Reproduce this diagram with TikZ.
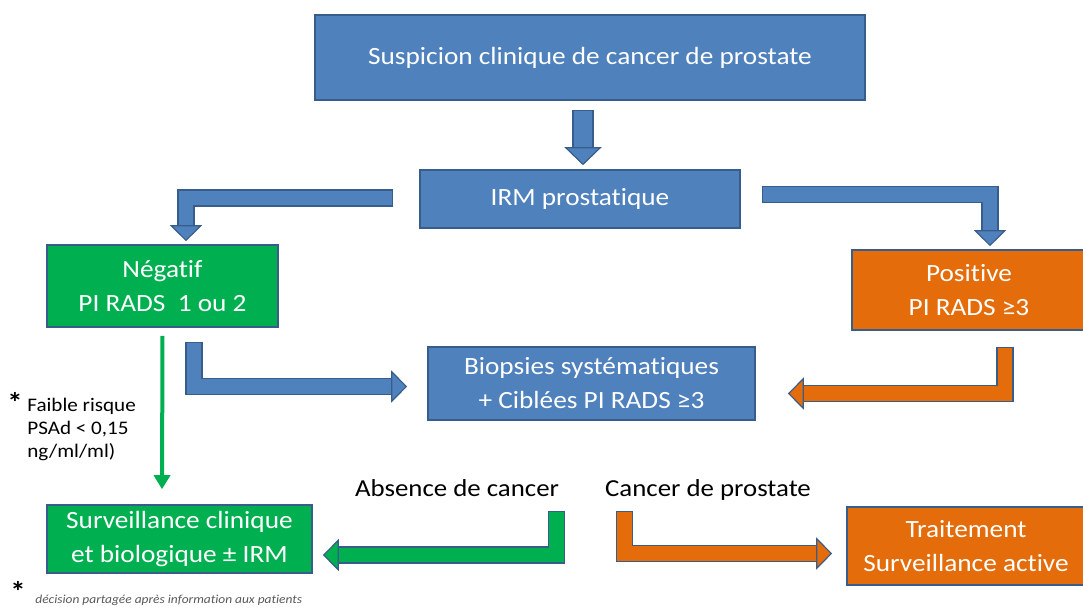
\documentclass[tikz,border=0pt]{standalone}
\usepackage{fontspec}
\setmainfont{Carlito}[FakeStretch=1.1, Ligatures=NoCommon]
\usetikzlibrary{arrows.meta}
\definecolor{boxblue}{HTML}{4F81BD}
\definecolor{edgeblue}{HTML}{385D8A}
\definecolor{boxgreen}{HTML}{00B050}
\definecolor{boxorange}{HTML}{E46C0A}

\begin{document}
\begin{tikzpicture}[x=0.5pt, y=-0.5pt,
  main node/.style={rectangle, draw=edgeblue, line width=0.8pt, text=white, align=center, inner sep=0pt, font=\fontsize{12.4}{17}\selectfont},
  blue node/.style={main node, fill=boxblue},
  green node/.style={main node, fill=boxgreen},
  orange node/.style={main node, fill=boxorange},
  label node/.style={anchor=base, font=\fontsize{12.2}{14}\selectfont},
  star node/.style={anchor=base, inner sep=0pt, text depth=0pt, font=\fontsize{14}{14}\bfseries},
  bent/.style={draw=#1, line width=7.4pt, line join=miter,
    preaction={draw=edgeblue, line width=8.6pt, arrows=-, shorten >=5pt, shorten <=-0.6pt},
    -{Triangle[length=8pt, width=16pt, line width=0.6pt, color=edgeblue, fill=#1]}},
  down arrow/.style={draw=boxblue, line width=9.4pt,
    preaction={draw=edgeblue, line width=10.6pt, arrows=-, shorten >=6pt, shorten <=-0.6pt},
    -{Triangle[length=9pt, width=18.5pt, line width=0.6pt, color=edgeblue, fill=boxblue]}},
  thin arrow/.style={draw=boxgreen, line width=2pt, -{Triangle[length=7pt, width=8pt]}}]

\useasboundingbox (0,0) rectangle (1083,607);

\node[blue node, minimum width=275pt, minimum height=42.5pt] (1) at (590,57.5) {Suspicion clinique de cancer de prostate};
\node[blue node, minimum width=160pt, minimum height=29pt] (2) at (580,199) {IRM prostatique};
\node[green node, minimum width=115.5pt, minimum height=41pt] (3) at (162.5,286) {Négatif\\PI RADS\ \ 1 ou 2};
\node[orange node, minimum width=117pt, minimum height=40pt] (4) at (969,290) {Positive\\PI RADS ≥3};
\node[blue node, minimum width=163.5pt, minimum height=36.5pt] (5) at (591.5,383.5) {Biopsies systématiques\\+ Ciblées PI RADS ≥3};
\node[green node, minimum width=132.5pt, minimum height=34pt] (6) at (179.5,539) {Surveillance clinique\\et biologique ± IRM};
\node[orange node, minimum width=119pt, minimum height=39pt] (7) at (966,546) {Traitement\\Surveillance active};

\node[label node] (8) at (457,496) {Absence de cancer};
\node[label node] (9) at (708,496) {Cancer de prostate};

% side note and footnote
\node[star node] (11) at (15,412) {*};
\node[anchor=north west, align=left, inner sep=0pt, font=\fontsize{9.6}{11.5}\selectfont] (10) at (27,398) {Faible risque\\PSAd < 0,15\\ng/ml/ml)};
\node[star node] (12) at (18,601) {*};
\node[anchor=west, inner sep=0pt, text=black!65, font=\fontsize{6.1}{7}\itshape] (13) at (35,600) {décision partagée après information aux patients};

\draw[down arrow] ([xshift=-3.5pt,yshift=-5pt]1.south) -- ([xshift=1.5pt,yshift=2pt]2.north);
\draw[bent=boxblue] ([xshift=-13.5pt,yshift=0.5pt]2.west) -| ([xshift=11.75pt,yshift=1.5pt]3.north);
\draw[bent=boxblue] ([xshift=11pt,yshift=2.25pt]2.east) -| ([xshift=10.5pt,yshift=1.5pt]4.north);
\draw[bent=boxblue] ([xshift=15.75pt,yshift=-7.5pt]3.south) |- ([xshift=-10pt,yshift=-1.5pt]5.west);
\draw[bent=boxorange] ([xshift=18pt,yshift=-8.5pt]4.south) |- ([xshift=16pt,yshift=-5pt]5.east);
\draw[thin arrow] ([yshift=-4pt]3.south) -- ([xshift=-8.75pt,yshift=7.5pt]6.north);
\draw[bent=boxgreen] ([xshift=49.75pt,yshift=-8pt]8.base) |- ([xshift=5pt,yshift=-8pt]6.east);
\draw[bent=boxorange] ([xshift=-41.75pt,yshift=-8pt]9.base) |- ([xshift=-7pt,yshift=-3.75pt]7.west);

\end{tikzpicture}
\end{document}
